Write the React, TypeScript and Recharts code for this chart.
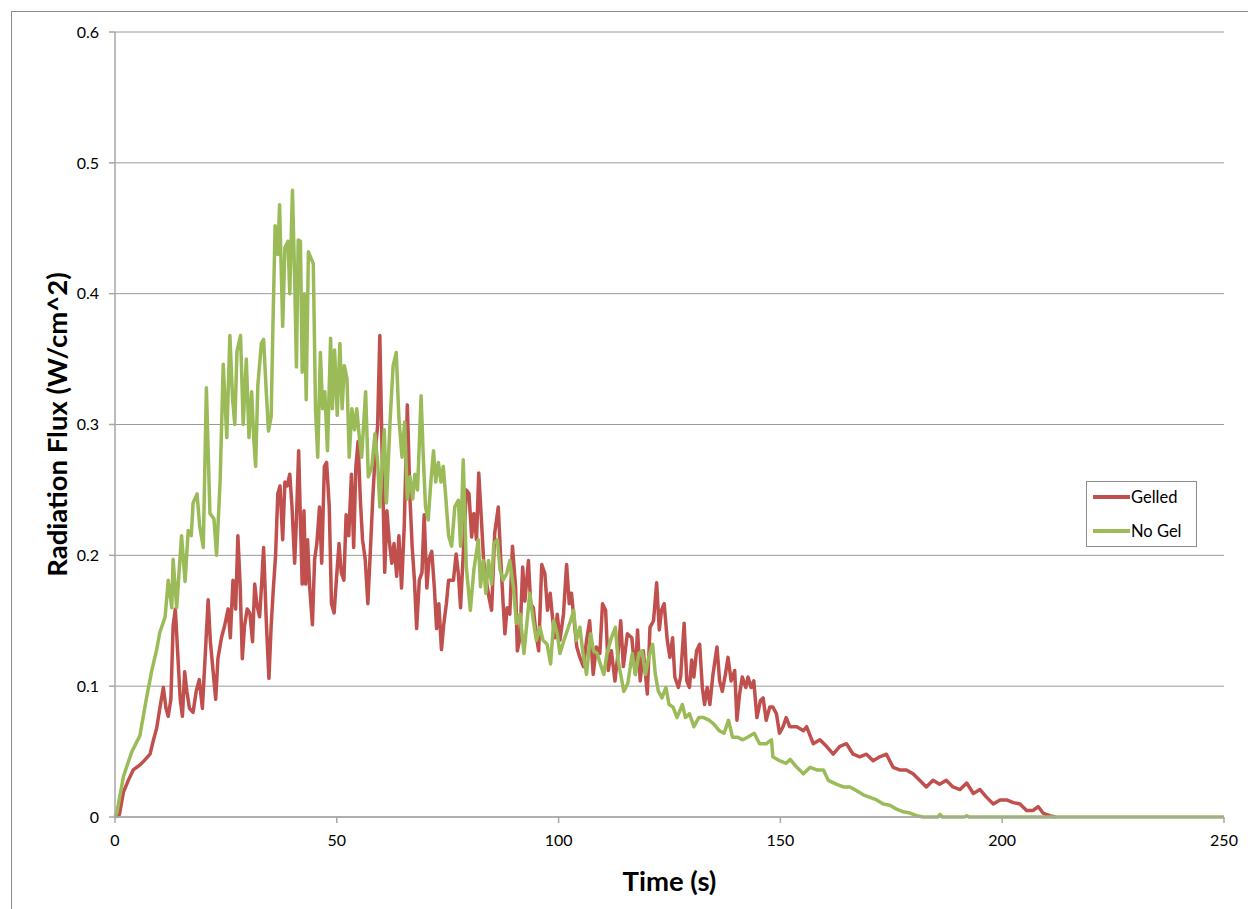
import { CartesianGrid, Legend, Line, LineChart, XAxis, YAxis } from "recharts";

// readings: [time s, flux W/cm^2]
const gelled: [number, number][] = [
  [0, 0], [1, 0.002], [1.9, 0.019], [3, 0.028], [4.1, 0.036], [5.3, 0.039], [6, 0.041], [7.1, 0.045],
  [7.9, 0.048], [8.6, 0.058], [9.4, 0.068], [10.1, 0.083], [10.9, 0.099], [11.5, 0.083], [12, 0.077],
  [12.6, 0.09], [13.1, 0.146], [13.6, 0.159], [14.2, 0.121], [14.7, 0.09], [15.2, 0.077], [15.7, 0.111],
  [16.2, 0.096], [16.8, 0.083], [17.6, 0.08], [18.3, 0.096], [19, 0.105], [19.7, 0.083], [20.3, 0.121],
  [21, 0.166], [21.5, 0.134], [22.1, 0.112], [22.7, 0.09], [23.2, 0.121], [24, 0.137], [24.7, 0.146],
  [25.5, 0.159], [26, 0.137], [26.6, 0.181], [27.2, 0.159], [27.7, 0.215], [28.2, 0.178], [28.7, 0.121],
  [29.2, 0.146], [29.8, 0.159], [30.4, 0.156], [31, 0.134], [31.5, 0.178], [32, 0.162], [32.6, 0.153],
  [33, 0.175], [33.5, 0.206], [34.1, 0.15], [34.7, 0.106], [35.2, 0.146], [35.7, 0.175], [36.2, 0.2],
  [36.7, 0.247], [37.2, 0.253], [37.8, 0.212], [38.3, 0.256], [38.8, 0.253], [39.4, 0.262], [39.9, 0.237],
  [40.5, 0.194], [40.9, 0.227], [41.4, 0.28], [41.8, 0.227], [42.2, 0.178], [42.6, 0.234], [43, 0.178],
  [43.4, 0.212], [43.9, 0.175], [44.5, 0.147], [45, 0.197], [45.5, 0.209], [46.1, 0.237], [46.6, 0.194],
  [47.2, 0.268], [47.7, 0.271], [48.3, 0.237], [48.8, 0.163], [49.4, 0.156], [49.9, 0.181], [50.5, 0.209],
  [51, 0.187], [51.6, 0.181], [52.1, 0.231], [52.7, 0.215], [53.3, 0.262], [53.8, 0.206], [54.3, 0.268],
  [54.8, 0.287], [55.3, 0.243], [55.8, 0.212], [56.4, 0.197], [57, 0.163], [57.6, 0.206], [58.1, 0.243],
  [58.7, 0.28], [59.2, 0.299], [59.7, 0.368], [60.2, 0.28], [60.8, 0.187], [61.3, 0.234], [61.8, 0.212],
  [62.4, 0.194], [62.9, 0.209], [63.5, 0.184], [64, 0.215], [64.6, 0.175], [65.2, 0.222], [65.9, 0.315],
  [66.5, 0.243], [67, 0.206], [67.5, 0.181], [68, 0.144], [68.6, 0.181], [69.2, 0.187], [69.7, 0.231],
  [70.3, 0.175], [70.8, 0.197], [71.4, 0.203], [72, 0.175], [72.5, 0.144], [73, 0.163], [73.6, 0.128],
  [74.1, 0.147], [74.7, 0.163], [75.2, 0.181], [76.3, 0.181], [76.9, 0.201], [77.4, 0.186], [77.9, 0.16],
  [78.7, 0.214], [79.2, 0.25], [79.8, 0.247], [80.4, 0.214], [80.9, 0.232], [81.5, 0.212], [82, 0.263],
  [82.6, 0.227], [83.1, 0.196], [83.7, 0.181], [84.3, 0.168], [84.9, 0.158], [85.6, 0.217], [86.4, 0.237],
  [86.9, 0.201], [87.5, 0.163], [87.9, 0.14], [88.4, 0.16], [89, 0.155], [89.6, 0.207], [90.3, 0.176],
  [90.7, 0.127], [91.3, 0.137], [91.9, 0.191], [92.4, 0.165], [93.2, 0.196], [93.7, 0.163], [94.3, 0.16],
  [94.9, 0.14], [95.5, 0.127], [96.2, 0.193], [96.9, 0.186], [97.5, 0.158], [98.1, 0.171], [98.7, 0.15],
  [99.2, 0.137], [99.7, 0.155], [100.3, 0.135], [101.1, 0.155], [101.8, 0.193], [102.4, 0.163],
  [102.9, 0.171], [103.5, 0.15], [104.1, 0.13], [104.8, 0.122], [105.6, 0.115], [106.3, 0.135], [107, 0.15],
  [107.8, 0.109], [108.5, 0.13], [109.3, 0.125], [109.9, 0.163], [110.6, 0.158], [111.2, 0.112],
  [111.9, 0.127], [112.7, 0.104], [113.4, 0.125], [114, 0.15], [114.6, 0.115], [115.5, 0.14], [116.5, 0.137],
  [117.3, 0.109], [117.8, 0.143], [118.4, 0.104], [119.1, 0.127], [120, 0.094], [120.6, 0.145], [121.4, 0.15],
  [122.1, 0.179], [122.7, 0.143], [123.2, 0.158], [123.8, 0.163], [124.5, 0.135], [125.1, 0.122],
  [125.7, 0.137], [126.2, 0.107], [127, 0.099], [127.5, 0.107], [128.3, 0.148], [128.9, 0.104], [129.5, 0.099],
  [130, 0.12], [130.5, 0.107], [131.1, 0.127], [131.8, 0.132], [132.4, 0.099], [132.9, 0.086], [133.5, 0.099],
  [134.1, 0.086], [134.8, 0.109], [135.7, 0.13], [136.3, 0.104], [136.9, 0.096], [137.6, 0.109], [138.2, 0.122],
  [138.9, 0.104], [139.7, 0.112], [140.2, 0.074], [140.8, 0.094], [141.4, 0.107], [142.2, 0.099],
  [142.7, 0.107], [143.4, 0.099], [144, 0.104], [144.7, 0.076], [145.5, 0.089], [146.1, 0.091], [146.8, 0.074],
  [147.6, 0.084], [148.3, 0.084], [149.1, 0.079], [149.8, 0.064], [150.6, 0.069], [151.3, 0.076],
  [152.1, 0.069], [153.7, 0.069], [155.2, 0.066], [155.9, 0.069], [157.4, 0.056], [158.9, 0.059],
  [160.4, 0.054], [161.9, 0.048], [163.4, 0.054], [164.9, 0.056], [166.4, 0.048], [167.9, 0.046],
  [169.4, 0.048], [170.9, 0.043], [172.4, 0.046], [173.9, 0.048], [175.4, 0.038], [176.9, 0.036],
  [178.4, 0.036], [179.9, 0.033], [181.4, 0.028], [182.9, 0.023], [184.4, 0.028], [185.9, 0.025],
  [187.4, 0.028], [188.9, 0.023], [190.5, 0.021], [192, 0.026], [193.5, 0.018], [195, 0.021], [196.5, 0.015],
  [198, 0.01], [199.5, 0.013], [201, 0.013], [202.5, 0.011], [204, 0.01], [205.5, 0.005], [207, 0.005],
  [208.1, 0.008], [209.2, 0.003], [210.7, 0.001], [212, 0],
];

const noGel: [number, number][] = [
  [0, 0], [0.4, 0.003], [1.9, 0.031], [3.8, 0.05], [5.6, 0.062], [7.1, 0.091], [8.3, 0.112], [9.4, 0.128],
  [10.1, 0.141], [11.3, 0.153], [12, 0.181], [12.8, 0.16], [13.1, 0.197], [13.9, 0.16], [15, 0.215],
  [15.8, 0.18], [16.5, 0.219], [17.2, 0.215], [17.6, 0.24], [18.5, 0.247], [19.1, 0.222], [19.9, 0.206],
  [20.6, 0.328], [21.4, 0.232], [22.3, 0.228], [22.9, 0.2], [23.7, 0.257], [24.4, 0.346], [25.2, 0.29],
  [25.9, 0.368], [26.5, 0.32], [27, 0.3], [27.5, 0.356], [28.3, 0.368], [28.9, 0.3], [29.6, 0.35], [30.2, 0.29],
  [30.8, 0.325], [31.3, 0.288], [31.7, 0.268], [32.2, 0.33], [33, 0.362], [33.5, 0.365], [34.1, 0.325],
  [34.6, 0.295], [35.2, 0.306], [35.6, 0.375], [36.1, 0.452], [36.7, 0.43], [37.1, 0.468], [37.8, 0.375],
  [38.3, 0.435], [39, 0.44], [39.4, 0.4], [40, 0.479], [40.5, 0.412], [40.9, 0.344], [41.3, 0.441],
  [41.8, 0.44], [42.2, 0.34], [42.7, 0.4], [43.1, 0.319], [43.6, 0.432], [44.2, 0.427], [44.7, 0.423],
  [45.2, 0.312], [45.7, 0.275], [46.3, 0.355], [46.8, 0.312], [47.3, 0.325], [47.9, 0.28], [48.6, 0.366],
  [49, 0.312], [49.5, 0.357], [50.1, 0.307], [50.7, 0.362], [51.2, 0.312], [51.7, 0.345], [52.3, 0.335],
  [52.8, 0.275], [53.4, 0.312], [54, 0.296], [54.5, 0.312], [55, 0.293], [55.6, 0.275], [56.5, 0.325],
  [57.1, 0.26], [57.9, 0.268], [58.6, 0.293], [59.2, 0.271], [59.7, 0.237], [60.2, 0.268], [60.7, 0.296],
  [61.2, 0.24], [62, 0.302], [62.7, 0.345], [63.4, 0.355], [64, 0.305], [64.7, 0.275], [65.3, 0.302],
  [65.9, 0.243], [66.5, 0.26], [67.1, 0.243], [67.6, 0.262], [68.2, 0.25], [69, 0.322], [69.5, 0.275],
  [70, 0.237], [70.6, 0.227], [71.2, 0.256], [71.8, 0.28], [72.3, 0.256], [72.9, 0.271], [73.5, 0.256],
  [74, 0.268], [74.6, 0.243], [75.2, 0.215], [75.9, 0.207], [76.6, 0.237], [77.4, 0.242], [77.9, 0.207],
  [78.5, 0.273], [79.2, 0.191], [80.1, 0.158], [80.9, 0.189], [81.9, 0.212], [82.4, 0.176], [83, 0.196],
  [83.6, 0.171], [84.2, 0.196], [84.9, 0.178], [85.4, 0.209], [86.2, 0.212], [86.8, 0.189], [87.5, 0.181],
  [88.3, 0.186], [89, 0.196], [89.8, 0.176], [90.5, 0.148], [91.3, 0.155], [92.2, 0.125], [92.9, 0.15],
  [93.5, 0.171], [94.3, 0.15], [95, 0.135], [95.8, 0.145], [96.5, 0.135], [97.4, 0.132], [98.2, 0.117],
  [98.9, 0.15], [99.7, 0.14], [100.3, 0.125], [101.2, 0.135], [101.9, 0.142], [102.7, 0.15], [103.4, 0.158],
  [104, 0.135], [104.8, 0.145], [105.5, 0.125], [106.3, 0.109], [107.2, 0.14], [107.9, 0.127], [108.7, 0.125],
  [109.4, 0.117], [110.2, 0.109], [110.9, 0.125], [111.9, 0.137], [112.8, 0.145], [113.4, 0.12],
  [114.7, 0.096], [115.6, 0.102], [116.6, 0.125], [117.3, 0.109], [118.1, 0.125], [118.8, 0.127],
  [119.6, 0.109], [120.3, 0.122], [121.2, 0.132], [121.8, 0.109], [122.5, 0.096], [123.3, 0.091],
  [124.2, 0.099], [124.9, 0.086], [125.8, 0.084], [126.7, 0.076], [127.9, 0.086], [128.6, 0.076],
  [129.5, 0.079], [130.5, 0.069], [131.6, 0.076], [132.7, 0.076], [133.9, 0.074], [135, 0.071], [136.2, 0.066],
  [137.3, 0.064], [138.3, 0.074], [139.2, 0.061], [140.3, 0.061], [141.5, 0.059], [142.6, 0.061],
  [144.1, 0.064], [145.3, 0.056], [146.8, 0.056], [148, 0.059], [148.3, 0.046], [149.8, 0.043], [151.3, 0.041],
  [152.2, 0.044], [153.7, 0.038], [155.2, 0.033], [156.7, 0.038], [158.2, 0.036], [159.7, 0.036],
  [160.8, 0.028], [162.7, 0.025], [164.2, 0.023], [165.7, 0.023], [167.2, 0.02], [168.7, 0.017], [170.2, 0.015],
  [171.7, 0.013], [173.2, 0.01], [174.7, 0.009], [176.2, 0.006], [177.7, 0.004], [179.2, 0.003], [180.7, 0.001],
  [182.2, 0], [185.5, 0], [186, 0.002], [186.5, 0], [191.5, 0], [192, 0.001], [192.5, 0], [250, 0],
];

const timeTicks = [0, 50, 100, 150, 200, 250];
const fluxTicks = [0, 0.1, 0.2, 0.3, 0.4, 0.5, 0.6];

const FONT = "Lato, 'Open Sans', sans-serif";
const toPoints = (rows: [number, number][]) => rows.map(([t, v]) => ({ t, v }));

function LegendBox({ payload }: any) {
  return (
    <div
      style={{
        width: 111,
        height: 66,
        boxSizing: "border-box",
        border: "1px solid #8c8c8c",
        background: "#fff",
        position: "relative",
        fontFamily: FONT,
        fontSize: 16.5,
        color: "#000",
      }}
    >
      {(payload ?? []).map((entry: any, i: number) => (
        <div
          key={entry.value}
          style={{ position: "absolute", left: 6, top: 5 + i * 34, height: 20, display: "flex", alignItems: "center" }}
        >
          <span style={{ display: "inline-block", width: 37, height: 3.5, background: entry.color }} />
          <span style={{ marginLeft: 1, lineHeight: "20px" }}>{entry.value}</span>
        </div>
      ))}
    </div>
  );
}

export default function App() {
  const tick = { fill: "#000", fontSize: 16, fontFamily: FONT };
  return (
    <div style={{ position: "fixed", inset: 0, overflow: "hidden", background: "#fff" }}>
      <div
        style={{
          position: "absolute",
          left: 11,
          top: 11,
          width: 1300,
          height: 1000,
          border: "1px solid #8c8c8c",
        }}
      />
      <div style={{ position: "absolute", left: 0, top: 0 }}>
        <LineChart width={1248} height={909} margin={{ top: 32, right: 24, bottom: 12, left: 0 }}>
          <CartesianGrid vertical={false} stroke="#9a9a9a" />
          <XAxis
            type="number"
            dataKey="t"
            domain={[0, 250]}
            ticks={timeTicks}
            height={80}
            tickMargin={12}
            tickSize={6}
            stroke="#a6a6a6"
            strokeWidth={1.5}
            tick={tick}
            label={({ viewBox }: any) => (
              <text
                x={viewBox.x + viewBox.width / 2}
                y={viewBox.y + 74}
                textAnchor="middle"
                fontFamily={FONT}
                fontSize={27.5}
                fontWeight={700}
                fill="#000"
              >
                Time (s)
              </text>
            )}
          />
          <YAxis
            type="number"
            domain={[0, 0.6]}
            ticks={fluxTicks}
            width={115}
            tickMargin={10}
            tickSize={6}
            stroke="#a6a6a6"
            strokeWidth={1.5}
            tick={tick}
            tickFormatter={(v: number) => String(v)}
            label={({ viewBox }: any) => (
              <text
                x={56}
                y={viewBox.y + viewBox.height / 2}
                transform={`rotate(-90, 56, ${viewBox.y + viewBox.height / 2})`}
                textAnchor="middle"
                dominantBaseline="central"
                fontFamily={FONT}
                fontSize={27.5}
                fontWeight={700}
                fill="#000"
              >
                Radiation Flux (W/cm^2)
              </text>
            )}
          />
          <Legend
            layout="vertical"
            align="center"
            verticalAlign="middle"
            wrapperStyle={{ left: 1086, top: 481, width: 111, height: 66 }}
            content={LegendBox}
          />
          <Line
            data={toPoints(gelled)}
            dataKey="v"
            name="Gelled"
            type="linear"
            stroke="#C0504D"
            strokeWidth={3.5}
            strokeLinejoin="round"
            dot={false}
            isAnimationActive={false}
          />
          <Line
            data={toPoints(noGel)}
            dataKey="v"
            name="No Gel"
            type="linear"
            stroke="#9BBB59"
            strokeWidth={3.5}
            strokeLinejoin="round"
            dot={false}
            isAnimationActive={false}
          />
        </LineChart>
      </div>
    </div>
  );
}
